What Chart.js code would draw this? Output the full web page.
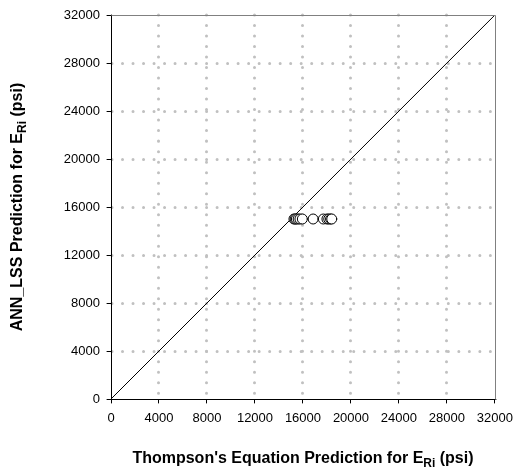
<!DOCTYPE html>
<html>
<head>
<meta charset="utf-8">
<script src="https://cdn.jsdelivr.net/npm/chart.js@4.4.0/dist/chart.umd.min.js"></script>
<style>
  html, body { margin: 0; padding: 0; background: #fff; }
</style>
</head>
<body>
<canvas id="chart" width="521" height="471"></canvas>
<script>
// --- Data ---
const thompsonPred = [15250, 15350, 15450, 15600, 15750, 15950, 16850, 17700, 18000, 18150, 18300, 18400];
const annPred      = [15000, 15000, 15000, 15000, 15000, 15000, 15000, 15000, 15000, 15000, 15000, 15000];
const lineX = [0, 32000];
const lineY = [0, 32000];
const axisMin = 0;
const axisMax = 32000;
const axisStep = 4000;
const xTitleParts = ["Thompson's Equation Prediction for E", "Ri", " (psi)"];
const yTitleParts = ["ANN_LSS Prediction for E", "Ri", " (psi)"];

const FONT = '"Liberation Sans", Arial, sans-serif';

// grey dotted grid, but not on the frame lines
function gridColor(ctx) {
    if (ctx.tick && (ctx.tick.value === axisMin || ctx.tick.value === axisMax)) return 'rgba(0,0,0,0)';
    return '#c0c0c0';
}

function drawTitle(ctx, parts, cx, cy, rotate) {
    const big = 'bold 16px ' + FONT;
    const small = 'bold 12px ' + FONT;
    ctx.save();
    ctx.translate(cx, cy);
    if (rotate) ctx.rotate(-Math.PI / 2);
    ctx.fillStyle = '#000';
    ctx.textBaseline = 'middle';
    ctx.textAlign = 'left';
    ctx.font = big;
    const w0 = ctx.measureText(parts[0]).width;
    const w2 = ctx.measureText(parts[2]).width;
    ctx.font = small;
    const w1 = ctx.measureText(parts[1]).width;
    let x = -(w0 + w1 + w2) / 2;
    ctx.font = big;
    ctx.fillText(parts[0], x, 0);
    x += w0;
    ctx.font = small;
    ctx.fillText(parts[1], x, 5);
    x += w1;
    ctx.font = big;
    ctx.fillText(parts[2], x, 0);
    ctx.restore();
}

const extras = {
    id: 'extras',
    beforeDraw(chart) {
        chart.ctx.lineCap = 'round';   // round dots for the grid
    },
    afterDraw(chart) {
        const ctx = chart.ctx;
        const a = chart.chartArea;
        ctx.lineCap = 'butt';
        // top and right frame
        ctx.save();
        ctx.strokeStyle = '#808080';
        ctx.lineWidth = 1;
        ctx.beginPath();
        ctx.moveTo(Math.round(a.left) + 0.5, Math.round(a.top) + 0.5);
        ctx.lineTo(Math.round(a.right) + 0.5, Math.round(a.top) + 0.5);
        ctx.lineTo(Math.round(a.right) + 0.5, Math.round(a.bottom) + 0.5);
        ctx.stroke();
        ctx.restore();

        drawTitle(ctx, xTitleParts, (a.left + a.right) / 2, 459, false);
        drawTitle(ctx, yTitleParts, 18, (a.top + a.bottom) / 2, true);
    }
};

new Chart(document.getElementById('chart'), {
    type: 'scatter',
    data: {
        datasets: [{
            type: 'line',
            data: lineX.map((x, i) => ({ x: x, y: lineY[i] })),
            borderColor: '#000',
            borderWidth: 1,
            pointRadius: 0,
            fill: false,
            order: 2
        }, {
            data: thompsonPred.map((x, i) => ({ x: x, y: annPred[i] })),
            pointRadius: 5,
            pointBorderWidth: 1,
            pointBorderColor: '#000',
            pointBackgroundColor: '#fff',
            order: 1
        }]
    },
    options: {
        responsive: false,
        animation: false,
        events: [],
        layout: { padding: { top: 15, right: 25, left: 0, bottom: 0 } },
        plugins: {
            legend: { display: false },
            tooltip: { enabled: false }
        },
        scales: {
            x: {
                type: 'linear',
                min: axisMin,
                max: axisMax,
                afterFit: (s) => { s.height = 72; },
                ticks: { stepSize: axisStep, color: '#000', font: { family: FONT, size: 13 }, padding: 8, maxRotation: 0,
                         callback: (v) => String(v) },
                grid: { color: gridColor, lineWidth: 3, tickLength: 4, tickColor: '#000', tickWidth: 1 },
                border: { color: '#000', width: 1, dash: [0.01, 10.5] }
            },
            y: {
                type: 'linear',
                min: axisMin,
                max: axisMax,
                afterFit: (s) => { s.width = 111; },
                ticks: { stepSize: axisStep, color: '#000', font: { family: FONT, size: 13 }, padding: 7,
                         callback: (v) => String(v) },
                grid: { color: gridColor, lineWidth: 3, tickLength: 4, tickColor: '#000', tickWidth: 1 },
                border: { color: '#000', width: 1, dash: [0.01, 10.5] }
            }
        }
    },
    plugins: [extras]
});
</script>
</body>
</html>
